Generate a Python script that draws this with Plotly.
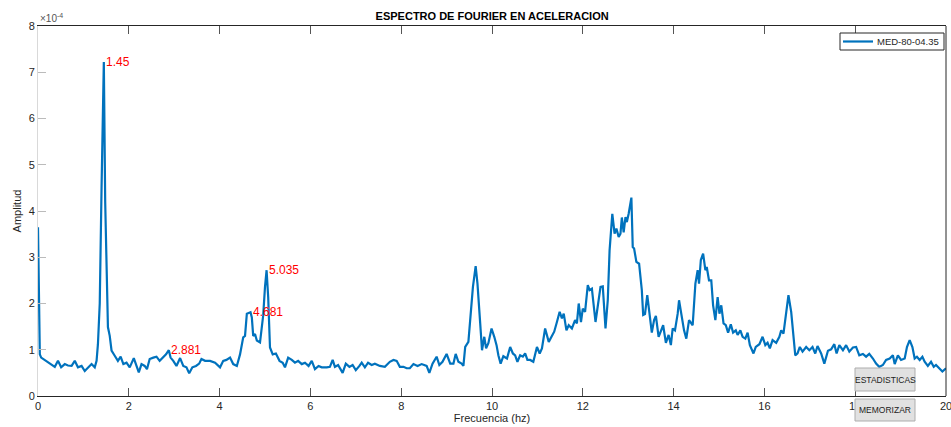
import plotly.graph_objects as go

# Frequency (Hz) and Fourier amplitude (x 1e-4)
freq = [
    0.00, 0.04, 0.07, 0.15, 0.22, 0.29, 0.37, 0.44, 0.51, 0.59, 0.66, 0.74, 0.81, 0.88, 0.96,
    1.03, 1.10, 1.18, 1.25, 1.29, 1.32, 1.36, 1.40, 1.45, 1.48, 1.51, 1.54, 1.58, 1.62, 1.69,
    1.76, 1.82, 1.88, 1.95, 2.02, 2.11, 2.17, 2.22, 2.28, 2.35, 2.40, 2.46, 2.54, 2.61, 2.68,
    2.76, 2.82, 2.881, 2.92, 2.98, 3.05, 3.13, 3.20, 3.27, 3.33, 3.40, 3.48, 3.55, 3.60, 3.68,
    3.79, 3.90, 4.01, 4.08, 4.15, 4.23, 4.30, 4.38, 4.45, 4.52, 4.56, 4.60, 4.681, 4.71, 4.74,
    4.78, 4.82, 4.89, 4.93, 4.96, 5.00, 5.035, 5.07, 5.11, 5.17, 5.24, 5.32, 5.39, 5.44, 5.51,
    5.59, 5.66, 5.73, 5.81, 5.88, 5.96, 6.03, 6.10, 6.18, 6.25, 6.36,
    6.43, 6.49, 6.54, 6.61, 6.71, 6.78, 6.86, 6.93, 7.00, 7.08, 7.13, 7.20, 7.27, 7.35, 7.42,
    7.53, 7.64, 7.75, 7.83, 7.90, 7.97, 8.05, 8.12, 8.19, 8.27, 8.36, 8.45, 8.56, 8.62, 8.69,
    8.78, 8.84, 8.91, 9.00, 9.08, 9.15, 9.20, 9.26, 9.33, 9.37, 9.41, 9.48, 9.53, 9.58, 9.64,
    9.68, 9.74, 9.78, 9.83, 9.87, 9.92, 9.99, 10.05, 10.10, 10.14, 10.19, 10.25, 10.33, 10.40, 10.46,
    10.51, 10.56, 10.62, 10.68, 10.73, 10.78, 10.84, 10.91, 10.99, 11.05, 11.10, 11.17, 11.25, 11.32, 11.37,
    11.43, 11.49, 11.54, 11.58, 11.64, 11.69, 11.76, 11.83, 11.87, 11.91, 11.96, 12.00, 12.05, 12.11, 12.15,
    12.20, 12.28, 12.33, 12.39, 12.44, 12.50, 12.55, 12.59, 12.65, 12.70, 12.74, 12.79, 12.83, 12.86, 12.90,
    12.94, 12.97, 13.01, 13.07,
    13.10, 13.13, 13.18, 13.24, 13.30, 13.33, 13.37, 13.42, 13.48, 13.52, 13.57, 13.61, 13.67, 13.72, 13.77,
    13.83, 13.89, 13.94, 13.98, 14.03, 14.09, 14.12, 14.17, 14.23, 14.28, 14.34, 14.42, 14.48, 14.53, 14.56,
    14.60, 14.65, 14.70, 14.73, 14.78, 14.83, 14.87, 14.92, 14.97, 15.01, 15.05, 15.10, 15.15, 15.20, 15.26,
    15.31, 15.37, 15.41, 15.47, 15.52, 15.58, 15.63, 15.68, 15.76, 15.81, 15.89, 15.96, 16.02, 16.07, 16.12,
    16.18, 16.26, 16.33, 16.37, 16.42, 16.48, 16.53, 16.59, 16.64, 16.68, 16.73, 16.78, 16.84, 16.92, 16.99,
    17.06, 17.12, 17.17, 17.25, 17.32, 17.40, 17.47, 17.54, 17.59, 17.65, 17.73, 17.80, 17.87, 17.95, 18.02,
    18.09, 18.17, 18.24, 18.31, 18.39, 18.46, 18.53, 18.61, 18.68, 18.76, 18.83, 18.87, 18.94, 19.01, 19.09,
    19.14, 19.20, 19.26, 19.31, 19.36, 19.42, 19.48, 19.53, 19.60, 19.67, 19.73, 19.78, 19.86, 19.92, 20.00,
]
amp = [
    3.65, 0.90, 0.83, 0.78, 0.72, 0.69, 0.63, 0.76, 0.62, 0.69, 0.66, 0.65, 0.76, 0.62, 0.65,
    0.54, 0.62, 0.69, 0.62, 0.76, 1.12, 2.00, 4.50, 7.22, 4.20, 2.36, 1.49, 1.30, 0.98, 0.87,
    0.76, 0.85, 0.69, 0.72, 0.62, 0.82, 0.62, 0.51, 0.69, 0.65, 0.58, 0.80, 0.83, 0.85, 0.76,
    0.83, 0.90, 0.99, 0.83, 0.76, 0.65, 0.82, 0.65, 0.62, 0.49, 0.62, 0.65, 0.70, 0.80, 0.76,
    0.76, 0.72, 0.62, 0.76, 0.78, 0.83, 0.69, 0.65, 0.90, 1.27, 1.30, 1.78, 1.81, 1.70, 1.30,
    1.34, 1.20, 1.16, 1.56, 1.74, 2.36, 2.72, 2.14, 1.05, 0.90, 0.92, 0.76, 0.72, 0.62, 0.83,
    0.78, 0.72, 0.76, 0.69, 0.72, 0.65, 0.76, 0.58, 0.65, 0.62, 0.62,
    0.63, 0.78, 0.63, 0.67, 0.50, 0.70, 0.63, 0.67, 0.56, 0.65, 0.72, 0.62, 0.72, 0.67, 0.70,
    0.65, 0.63, 0.74, 0.78, 0.76, 0.63, 0.63, 0.60, 0.60, 0.69, 0.65, 0.69, 0.65, 0.50, 0.70,
    0.85, 0.67, 0.74, 0.91, 0.70, 0.70, 0.91, 0.74, 0.70, 0.65, 1.06, 1.17, 1.71, 2.36, 2.81,
    2.43, 1.57, 0.99, 1.28, 1.03, 1.14, 1.46, 1.28, 1.10, 0.88, 0.70, 0.86, 0.81, 1.06, 0.92,
    0.88, 0.74, 0.88, 0.85, 0.92, 0.78, 0.78, 0.74, 1.06, 0.92, 1.03, 1.46, 1.17, 1.32, 1.39,
    1.60, 1.82, 1.68, 1.78, 1.42, 1.53, 1.46, 1.64, 1.57, 2.00, 1.60, 1.89, 1.82, 2.40, 2.29,
    2.32, 1.60, 1.96, 2.36, 2.37, 1.46, 2.07, 3.15, 3.94, 3.51, 3.62, 3.44, 3.51, 3.86, 3.54,
    3.87, 3.76, 3.94, 4.29,
    3.22, 3.19, 2.90, 2.86, 2.29, 1.75, 1.77, 2.18, 1.71, 1.37, 1.64, 1.73, 1.28, 1.42, 1.53,
    1.15, 1.32, 1.10, 1.46, 1.42, 1.78, 2.07, 1.75, 1.42, 1.24, 1.64, 1.53, 2.43, 2.72, 2.43,
    2.94, 3.08, 2.72, 2.79, 2.50, 2.50, 1.96, 1.64, 2.14, 1.78, 1.96, 1.57, 1.53, 1.37, 1.55,
    1.37, 1.42, 1.32, 1.42, 1.28, 1.24, 1.37, 1.10, 0.92, 1.06, 1.12, 1.28, 1.10, 1.15, 1.03,
    1.21, 1.15, 1.28, 1.42, 1.35, 1.78, 2.18, 1.82, 1.28, 0.88, 0.92, 1.06, 0.96, 1.06, 0.99,
    1.06, 0.92, 1.08, 0.92, 0.70, 0.98, 1.01, 1.12, 0.92, 1.10, 0.99, 1.10, 0.96, 1.05, 1.06,
    0.88, 0.91, 0.85, 0.91, 0.81, 0.70, 0.63, 0.67, 0.78, 0.81, 0.88, 0.69, 0.88, 0.78, 0.81,
    1.06, 1.21, 1.06, 0.81, 0.85, 0.78, 0.85, 0.74, 0.65, 0.74, 0.63, 0.67, 0.60, 0.53, 0.60,
]

peak_freq = [1.45, 2.881, 4.681, 5.035]
peak_amp = [7.22, 0.99, 1.81, 2.72]
peak_labels = ["1.45", "2.881", "4.681", "5.035"]

x_ticks = [0, 2, 4, 6, 8, 10, 12, 14, 16, 18, 20]
y_ticks = [0, 1, 2, 3, 4, 5, 6, 7, 8]
series_name = "MED-80-04.35"
button_labels = ["ESTADISTICAS", "MEMORIZAR"]

FONT = "Liberation Sans, Arial, sans-serif"
DARK = "#262626"
BLUE = "#0072BD"

fig = go.Figure()
fig.add_trace(go.Scatter(
    x=freq, y=amp, mode="lines", name=series_name, showlegend=False,
    line=dict(color=BLUE, width=2.2),
))

for fx, fy, lab in zip(peak_freq, peak_amp, peak_labels):
    fig.add_annotation(x=fx, y=fy, text=lab, showarrow=False, xanchor="left", yanchor="middle",
                       font=dict(color="#FF0000", size=12, family=FONT))

# exponent label
fig.add_annotation(x=0, y=1, xref="paper", yref="paper", text="×10<sup>-4</sup>", showarrow=False,
                   xanchor="left", yanchor="bottom", font=dict(size=10, color="#555555", family=FONT))

# legend box (MATLAB style, compact)
W, H = 908.0, 370.0
def px(xp):
    return (xp - 38) / W
def py(yp):
    return (396 - yp) / H

fig.add_shape(type="rect", xref="paper", yref="paper", x0=px(840), x1=px(944), y0=py(50), y1=py(33),
              fillcolor="white", line=dict(color=DARK, width=1), layer="above")
fig.add_shape(type="line", xref="paper", yref="paper", x0=px(843), x1=px(873), y0=py(41.5), y1=py(41.5),
              line=dict(color=BLUE, width=2.2), layer="above")
fig.add_annotation(x=px(875), y=py(41.5), xref="paper", yref="paper", text=series_name, showarrow=False,
                   xanchor="left", yanchor="middle", font=dict(size=9.5, color=DARK, family=FONT))

# buttons
btn_boxes = [(855, 915, 368, 391), (855, 915, 399, 421)]
for txt, (bx0, bx1, by0, by1) in zip(button_labels, btn_boxes):
    fig.add_shape(type="rect", xref="paper", yref="paper", x0=px(bx0), x1=px(bx1), y0=py(by1), y1=py(by0),
                  fillcolor="#E1E1E1", line=dict(color="#ADADAD", width=1), layer="above")
    fig.add_annotation(x=px((bx0 + bx1) / 2), y=py((by0 + by1) / 2), xref="paper", yref="paper", text=txt,
                       showarrow=False, xanchor="center", yanchor="middle",
                       font=dict(size=8.5, color="#222222", family=FONT))

# right spine (dark)
fig.add_shape(type="line", xref="paper", yref="paper", x0=1, x1=1, y0=0, y1=1,
              line=dict(color=DARK, width=1), layer="above")

fig.update_layout(
    width=951, height=427,
    margin=dict(l=38, r=5, t=26, b=31),
    paper_bgcolor="white", plot_bgcolor="white",
    title=dict(text="<b>ESPECTRO DE FOURIER EN ACELERACION</b>", x=0.5175, xanchor="center",
               y=0.962, yanchor="middle", font=dict(size=11, color="black", family=FONT)),
    font=dict(family=FONT, size=11, color=DARK),
    showlegend=False,
    xaxis=dict(range=[0, 20], tickvals=x_ticks, ticktext=[str(v) for v in x_ticks],
               ticks="inside", ticklen=8, tickcolor="#555555", showline=True, linecolor=DARK,
               mirror="ticks", showgrid=False, zeroline=False, automargin=False,
               ticklabeloverflow="allow",
               title=dict(text="Frecuencia (hz)", standoff=2, font=dict(size=11, color=DARK)),
               tickfont=dict(size=11, color=DARK)),
    yaxis=dict(range=[0, 8], tickvals=y_ticks, ticktext=[str(v) for v in y_ticks],
               ticks="inside", ticklen=8, tickcolor="#BBBBBB", showline=True, linecolor="#D9D9D9",
               mirror=False, showgrid=False, zeroline=False, automargin=False,
               ticklabeloverflow="allow",
               title=dict(text="Amplitud", standoff=4, font=dict(size=11, color=DARK)),
               tickfont=dict(size=11, color=DARK)),
    yaxis2=dict(range=[0, 8], overlaying="y", side="right", tickvals=y_ticks, showticklabels=False,
                ticks="inside", ticklen=8, tickcolor="#888888", showline=True, linecolor=DARK,
                showgrid=False, zeroline=False, automargin=False),
)

fig.write_html("out.html")
